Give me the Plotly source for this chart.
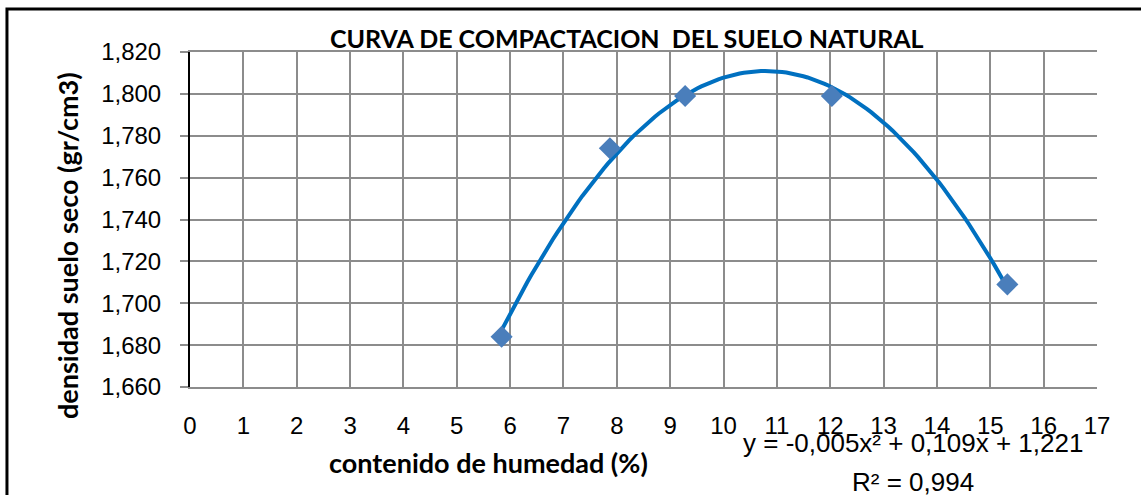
import numpy as np
import plotly.graph_objects as go

# ensayo proctor - suelo natural
humedad = [5.84, 7.87, 9.28, 12.03, 15.32]
densidad = [1.684, 1.774, 1.799, 1.799, 1.709]

x_ticks = list(range(0, 18))
y_ticks = [1.66, 1.68, 1.70, 1.72, 1.74, 1.76, 1.78, 1.80, 1.82]

# linea de tendencia polinomica (grado 2), como la de Excel
coef = np.polyfit(humedad, densidad, 2)
xs = np.linspace(min(humedad), max(humedad), 120)
ys = np.polyval(coef, xs)

fig = go.Figure()

fig.add_trace(go.Scatter(
    x=xs, y=ys, mode="lines",
    line=dict(color="#0070C0", width=4),
    hoverinfo="skip", showlegend=False,
))

fig.add_trace(go.Scatter(
    x=humedad, y=densidad, mode="markers",
    marker=dict(symbol="diamond", size=17, color="#4A7EBB"),
    showlegend=False,
))

fig.update_layout(
    width=1141, height=495,
    margin=dict(l=190, r=44, t=52, b=108),
    paper_bgcolor="white", plot_bgcolor="white",
    separators=",.",
    font=dict(family="Liberation Sans, Arial", size=24, color="black"),
)

fig.update_xaxes(
    range=[0, 17], tickvals=x_ticks,
    showgrid=True, gridcolor="#8C8C8C", gridwidth=2,
    showline=True, linecolor="#8C8C8C", linewidth=2, mirror=True,
    ticks="", ticklabelstandoff=16, zeroline=False,
    tickfont=dict(size=24),
)

fig.update_yaxes(
    range=[1.66, 1.82], tickvals=y_ticks, tickformat=",.3f",
    showgrid=True, gridcolor="#8C8C8C", gridwidth=2,
    showline=True, linecolor="black", linewidth=2,
    ticks="outside", ticklen=8, tickcolor="#8C8C8C", tickwidth=2,
    ticklabelstandoff=14, zeroline=False,
    tickfont=dict(size=24),
)

# marco del grafico
fig.add_shape(type="rect", xref="paper", yref="paper",
              x0=-0.2018, x1=1.2, y0=-0.5, y1=1.128,
              line=dict(color="black", width=3), layer="above")

def texto(t, x, y, size, family=None, angle=0):
    fig.add_annotation(text=t, xref="paper", yref="paper", x=x, y=y,
                       xanchor="center", yanchor="middle", textangle=angle,
                       showarrow=False,
                       font=dict(size=size, family=family) if family else dict(size=size))

texto("<b>CURVA DE COMPACTACION  DEL SUELO NATURAL</b>", 0.482, 1.042, 25, "Lato")
texto("<b>densidad suelo seco (gr/cm3)</b>", -0.1345, 0.421, 27, "Lato", -90)
texto("<b>contenido de humedad (%)</b>", 0.3286, -0.224, 27, "Lato")
texto("y = -0,005x² + 0,109x + 1,221", 0.797, -0.167, 26)
texto("R² = 0,994", 0.797, -0.284, 26)

# sin margen del body para que el grafico ocupe la ventana exacta
fig.write_html("out.html", config={"displayModeBar": False},
               post_script="document.body.style.margin='0';")
